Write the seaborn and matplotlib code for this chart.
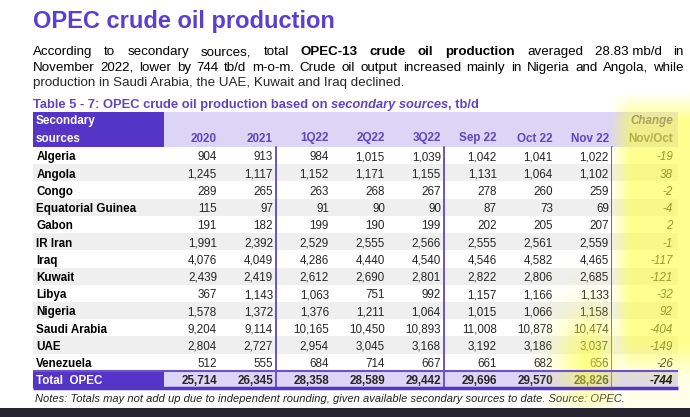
import numpy as np
import pandas as pd
import seaborn as sns
import matplotlib.pyplot as plt
from matplotlib.colors import ListedColormap
from matplotlib.patches import Rectangle

countries = ["Algeria", "Angola", "Congo", "Equatorial Guinea", "Gabon", "IR Iran",
             "Iraq", "Kuwait", "Libya", "Nigeria", "Saudi Arabia", "UAE", "Venezuela"]
periods = ["2020", "2021", "1Q22", "2Q22", "3Q22", "Sep 22", "Oct 22", "Nov 22"]

y2020 = [904, 1245, 289, 115, 191, 1991, 4076, 2439, 367, 1578, 9204, 2804, 512]
y2021 = [913, 1117, 265, 97, 182, 2392, 4049, 2419, 1143, 1372, 9114, 2727, 555]
q1_22 = [984, 1152, 263, 91, 199, 2529, 4286, 2612, 1063, 1376, 10165, 2954, 684]
q2_22 = [1015, 1171, 268, 90, 190, 2555, 4440, 2690, 751, 1211, 10450, 3045, 714]
q3_22 = [1039, 1155, 267, 90, 199, 2566, 4540, 2801, 992, 1064, 10893, 3168, 667]
sep22 = [1042, 1131, 278, 87, 202, 2555, 4546, 2822, 1157, 1015, 11008, 3192, 661]
oct22 = [1041, 1064, 260, 73, 205, 2561, 4582, 2806, 1166, 1066, 10878, 3186, 682]
nov22 = [1022, 1102, 259, 69, 207, 2559, 4465, 2685, 1133, 1158, 10474, 3037, 656]
change = [-19, 38, -2, -4, 2, -1, -117, -121, -32, 92, -404, -149, -26]

total_label = "Total  OPEC"
totals = [25714, 26345, 28358, 28589, 29442, 29696, 29570, 28826]
total_change = -744

df = pd.DataFrame(dict(zip(periods, [y2020, y2021, q1_22, q2_22, q3_22, sep22, oct22, nov22])),
                  index=countries)
df.loc[total_label] = totals
chg = change + [total_change]

sns.set_style("white")
plt.rcParams["font.family"] = ["Liberation Sans", "DejaVu Sans"]

TITLE = "#5a3fd1"
HEAD = "#5535c8"
LAV = "#dcd5f6"
HTXT = "#5f45c0"
LINE = "#6b52c8"
GRAY = "#efefef"

W, H = 690, 417
TT, TB = 147, 388
nrow = len(df)

fig = plt.figure(figsize=(W / 100, H / 100), dpi=100)
r = fig.canvas.get_renderer()

bg = fig.add_axes([0, 0, 1, 1])
bg.set_xlim(0, W)
bg.set_ylim(H, 0)
bg.axis("off")


def fit(t, width):
    w = t.get_window_extent(r).width
    t.set_fontsize(t.get_fontsize() * width / w)


def words_line(parts, x0, y, size, x1=None):
    items = [bg.text(x0, y, w, fontsize=size, fontweight="bold" if b else "normal",
                     color="black", va="baseline") for w, b in parts]
    widths = [t.get_window_extent(r).width for t in items]
    space = size * 0.278 * 100 / 72
    gap = (x1 - x0 - sum(widths)) / (len(items) - 1) if x1 else space
    x = x0
    for t, w in zip(items, widths):
        t.set_x(x)
        x += w + gap


# title and text
t = bg.text(33, 28, "OPEC crude oil production", fontsize=17, fontweight="bold",
            color=TITLE, va="baseline")
fit(t, 302)

line1 = "According to secondary sources, total".split() + ["OPEC-13", "crude", "oil", "production"] + ["averaged", "28.83 mb/d", "in"]
bold1 = [False] * 5 + [True] * 4 + [False] * 3
line2 = "November 2022, lower by 744 tb/d m-o-m. Crude oil output increased mainly in Nigeria and Angola, while".split()
words_line(list(zip(line1, bold1)), 33, 55, 9.6, 684)
words_line([(w, False) for w in line2], 33, 70.5, 9.6, 684)
bg.text(33, 86, "production in Saudi Arabia, the UAE, Kuwait and Iraq declined.",
        fontsize=9.6, va="baseline")

# caption
cap = [("Table 5 - 7: OPEC crude oil production based on ", "normal"),
       ("secondary sources", "italic"), (", tb/d", "normal")]
size = 8.6 * 445 / 411
x = 33
for s, st in cap:
    c = bg.text(x, 108, s, fontsize=size, fontweight="bold", fontstyle=st, color=HTXT, va="baseline")
    x += c.get_window_extent(r).width

# header
bg.add_patch(Rectangle((164, 112), 514, TT - 112, color=LAV, lw=0))
bg.add_patch(Rectangle((33, 112), 131, TT - 112, color=HEAD, lw=0))
bg.text(36, 124, "Secondary", fontsize=8.4, fontweight="bold", color="white", va="baseline")
bg.text(36, 141.5, "sources", fontsize=8.4, fontweight="bold", color="white", va="baseline")
for j, p in enumerate(periods):
    bg.text(164 + 56 * (j + 1) - 3, 141.5, p, fontsize=8.4, fontweight="bold",
            color=HTXT, ha="right", va="baseline")
bg.text(673, 124, "Change", fontsize=8.4, fontweight="bold", fontstyle="italic",
        color="#3a2898", ha="right", va="baseline")
bg.text(673, 141.5, "Nov/Oct", fontsize=8.4, fontweight="bold", color="#4a4650",
        ha="right", va="baseline")

# notes
n = bg.text(35, 402, "Notes: Totals may not add up due to independent rounding, given available "
            "secondary sources to date. Source: OPEC.", fontsize=8.3, fontstyle="italic",
            color="#222222", va="baseline")
fit(n, 587)

# table body as heatmaps
shade = np.array([i % 2 for i in range(nrow - 1)] + [2])[:, None]


def table_axes(x0, x1, data, colors):
    ax = fig.add_axes([x0 / W, 1 - TB / H, (x1 - x0) / W, (TB - TT) / H])
    sns.heatmap(data, ax=ax, cmap=ListedColormap(colors), vmin=-0.5, vmax=2.5,
                cbar=False, xticklabels=False, yticklabels=False)
    ax.set_axis_off()
    return ax


ax_lab = table_axes(33, 164, shade, ["white", GRAY, HEAD])
ax_num = table_axes(164, 612, np.repeat(shade, len(periods), axis=1), ["white", GRAY, LAV])
ax_chg = table_axes(612, 678, shade, ["white", GRAY, LAV])

for i, name in enumerate(df.index):
    last = i == nrow - 1
    ax_lab.text(0.025, i + 0.52, name, fontsize=8.4, fontweight="bold",
                color="white" if last else "black", va="center_baseline")
    for j, p in enumerate(periods):
        ax_num.text(j + 0.945, i + 0.52, f"{df.loc[name, p]:,}", fontsize=8.4,
                    fontweight="bold" if last else "normal", ha="right", va="center_baseline")
    ax_chg.text(0.925, i + 0.52, f"{chg[i]:,}", fontsize=8.4, fontstyle="italic",
                fontweight="bold" if last else "normal", color="black" if last else "#141414",
                ha="right", va="center_baseline")

for xv in [2, 5, 8]:
    ax_num.axvline(xv, color=LINE, lw=1.4, clip_on=False)

# overlay: total row rules, highlighter, bottom band
top = fig.add_axes([0, 0, 1, 1])
top.set_xlim(0, W)
top.set_ylim(H, 0)
top.axis("off")
rowh = (TB - TT) / nrow
top.hlines(TT + rowh * (nrow - 1), 33, 678, color=LINE, lw=1.5)
top.hlines(TB, 33, 678, color=HEAD, lw=2.5)

yy, xx = np.mgrid[0:H, 0:W] + 0.5
band = (np.clip((xx - 610) / 20, 0, 1) * np.clip((yy - 92) / 28, 0, 1)
        * (1 - 0.8 * np.clip((yy - 345) / 35, 0, 1)))
blob = np.exp(-(((xx - 588) / 30) ** 2 + ((yy - 358) / 48) ** 2))
rgba = np.zeros((H, W, 4))
rgba[..., 0] = 1
rgba[..., 1] = 1
rgba[..., 2] = 0.25
rgba[..., 3] = np.maximum(0.58 * band, 0.62 * blob)
top.imshow(rgba, extent=(0, W, H, 0), interpolation="bilinear", aspect="auto")
top.add_patch(Rectangle((0, 408), W, 9, color="#26252f", lw=0))
top.set_xlim(0, W)
top.set_ylim(H, 0)

fig.savefig("out.png", dpi=100)
